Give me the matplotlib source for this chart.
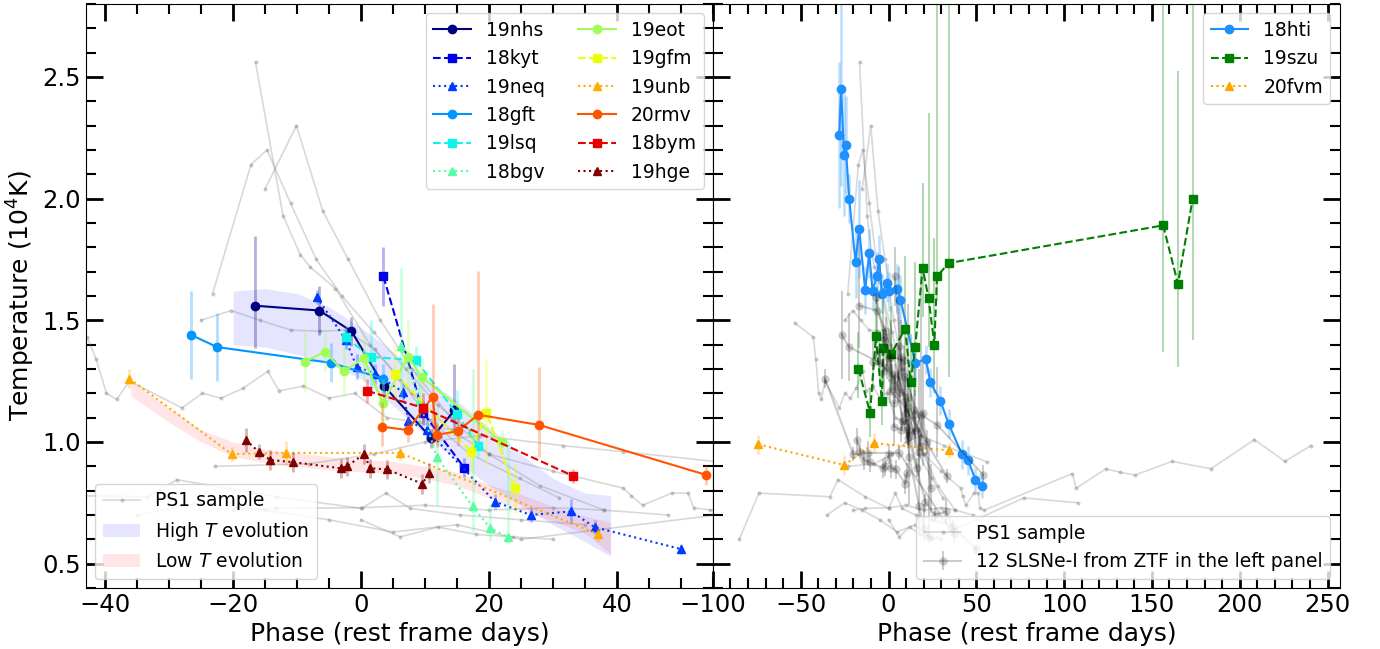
import numpy as np
import matplotlib.pyplot as plt
from matplotlib.patches import Patch
from matplotlib.lines import Line2D
from matplotlib.ticker import MultipleLocator

# ZTF SLSNe-I shown in the left panel: phase, temperature (1e4 K), error
names_left = ["19nhs", "18kyt", "19neq", "18gft", "19lsq", "18bgv",
              "19eot", "19gfm", "19unb", "20rmv", "18bym", "19hge"]

phase_19nhs = [-16.6, -6.5, -1.5, 3.6, 11.0, 14.6]
temp_19nhs = [1.56, 1.54, 1.455, 1.23, 1.015, 1.13]
err_19nhs = [[0.175, 0.1, 0.06, 0.05, 0.04, 0.1],
             [0.285, 0.1, 0.06, 0.05, 0.04, 0.19]]

phase_18kyt = [3.5, 9.7, 16.1]
temp_18kyt = [1.68, 1.12, 0.895]
err_18kyt = [0.12, 0.05, 0.04]

phase_19neq = [-6.9, -2.4, -0.7, 2.2, 6.6, 7.4, 10.3, 20.9, 26.5, 32.8, 36.5, 50.0]
temp_19neq = [1.595, 1.42, 1.31, 1.28, 1.205, 1.085, 1.05, 0.755, 0.70, 0.715, 0.65, 0.56]
err_19neq = [0.03, 0.04, 0.05, 0.04, 0.04, 0.04, 0.04, 0.03, 0.03, 0.05, 0.03, 0.02]

phase_18gft = [-26.6, -22.5, -4.7, 3.5]
temp_18gft = [1.44, 1.39, 1.325, 1.26]
err_18gft = [0.18, 0.14, 0.08, 0.06]

phase_19lsq = [-2.4, 1.5, 8.6, 15.0, 18.3]
temp_19lsq = [1.43, 1.35, 1.335, 1.115, 0.985]
err_19lsq = [0.05, 0.15, 0.06, 0.1, 0.05]

phase_18bgv = [6.25, 9.1, 11.8, 17.45, 20.2, 22.9]
temp_18bgv = [1.395, 1.17, 0.94, 0.735, 0.645, 0.61]
err_18bgv = [[0.215, 0.1, 0.2, 0.105, 0.05, 0.025],
             [0.325, 0.1, 0.2, 0.565, 0.1, 0.40]]

phase_19eot = [-8.75, -5.7, -2.65, 0.4, 3.4, 7.3, 9.6, 22.0]
temp_19eot = [1.33, 1.37, 1.29, 1.345, 1.16, 1.35, 1.265, 1.0]
err_19eot = [0.12, 0.08, 0.1, 0.1, 0.1, 0.15, 0.08, 0.05]

phase_19gfm = [5.3, 17.2, 19.6, 24.0]
temp_19gfm = [1.28, 0.96, 1.12, 0.81]
err_19gfm = [0.12, 0.1, 0.22, 0.1]

phase_19unb = [-36.2, -20.2, -11.8, 6.1, 37.1]
temp_19unb = [1.26, 0.95, 0.955, 0.955, 0.62]
err_19unb = [0.04, 0.03, 0.05, 0.03, 0.03]

phase_20rmv = [3.2, 7.3, 11.2, 11.8, 15.1, 18.3, 27.8, 53.9]
temp_20rmv = [1.063, 1.049, 1.186, 1.029, 1.044, 1.112, 1.07, 0.865]
err_20rmv = [[0.08, 0.05, 0.2, 0.05, 0.06, 0.11, 0.13, 0.04],
             [0.1, 0.05, 0.38, 0.05, 0.06, 0.59, 0.24, 0.04]]

phase_18bym = [1.0, 9.7, 33.2]
temp_18bym = [1.21, 1.14, 0.86]
err_18bym = [0.05, 0.06, 0.03]

phase_19hge = [-18.0, -16.0, -14.2, -10.6, -3.2, -2.2, 0.5, 1.4, 4.1, 9.6, 10.6]
temp_19hge = [1.008, 0.96, 0.926, 0.917, 0.892, 0.90, 0.951, 0.892, 0.887, 0.828, 0.872]
err_19hge = [0.05, 0.03, 0.04, 0.04, 0.04, 0.04, 0.04, 0.04, 0.04, 0.04, 0.04]

phases_left = [phase_19nhs, phase_18kyt, phase_19neq, phase_18gft, phase_19lsq, phase_18bgv,
               phase_19eot, phase_19gfm, phase_19unb, phase_20rmv, phase_18bym, phase_19hge]
temps_left = [temp_19nhs, temp_18kyt, temp_19neq, temp_18gft, temp_19lsq, temp_18bgv,
              temp_19eot, temp_19gfm, temp_19unb, temp_20rmv, temp_18bym, temp_19hge]
errs_left = [err_19nhs, err_18kyt, err_19neq, err_18gft, err_19lsq, err_18bgv,
             err_19eot, err_19gfm, err_19unb, err_20rmv, err_18bym, err_19hge]

# SLSNe-I in the right panel
phase_18hti = [-28.1, -27.0, -25.3, -24.4, -22.4, -18.8, -16.7, -13.3, -11.0, -9.1, -6.7, -5.3,
               -3.8, -0.6, 0.4, 5.1, 6.8, 15.2, 21.3, 23.8, 29.5, 34.2, 41.8, 45.3, 49.5, 53.3]
temp_18hti = [2.26, 2.45, 2.18, 2.22, 2.0, 1.74, 1.875, 1.625, 1.775, 1.62, 1.68, 1.75,
              1.61, 1.655, 1.62, 1.63, 1.585, 1.325, 1.34, 1.245, 1.17, 1.075, 0.95, 0.925, 0.845, 0.82]
err_18hti = [0.3, 0.4, 0.25, 0.2, 0.1, 0.15, 0.2, 0.1, 0.1, 0.08, 0.1, 0.1,
             0.08, 0.08, 0.08, 0.1, 0.1, 0.08, 0.06, 0.06, 0.06, 0.06, 0.06, 0.06, 0.05, 0.05]

phase_19szu = [-17.1, -10.5, -7.2, -3.8, -2.9, 1.3, 9.5, 12.6, 15.2, 19.4, 22.8, 26.1, 27.6, 34.2,
               156.4, 164.8, 173.2]
temp_19szu = [1.30, 1.12, 1.435, 1.17, 1.385, 1.36, 1.465, 1.245, 1.39, 1.715, 1.59, 1.40, 1.68, 1.735,
              1.89, 1.65, 2.0]
errlo_19szu = [0.12, 0.1, 0.12, 0.1, 0.15, 0.15, 0.15, 0.15, 0.2, 0.2, 0.2, 0.2, 0.1, 0.47,
               0.52, 0.34, 0.58]
errhi_19szu = [0.15, 0.1, 0.15, 0.12, 0.2, 0.2, 0.3, 0.2, 0.35, 0.35, 0.76, 0.44, 1.2, 1.2,
               1.0, 0.875, 1.0]

phase_20fvm = [-74.2, -25.1, -8.2, 34.6]
temp_20fvm = [0.99, 0.905, 0.995, 0.965]
err_20fvm = [0.04, 0.04, 0.04, 0.03]

# temperature evolution bands
band_phase_high = [-20, -15, -10, -5, 0, 5, 10, 15, 20, 25, 30, 35, 39]
band_high_upper = [1.62, 1.63, 1.61, 1.555, 1.47, 1.37, 1.26, 1.17, 1.06, 0.95, 0.85, 0.79, 0.78]
band_high_lower = [1.40, 1.39, 1.36, 1.32, 1.26, 1.15, 1.03, 0.92, 0.82, 0.74, 0.66, 0.59, 0.53]

band_phase_low = [-36, -30, -25, -20, -15, -10, -5, 0, 5, 10, 15, 20, 25, 30, 35, 39]
band_low_upper = [1.25, 1.14, 1.05, 1.0, 0.97, 0.955, 0.94, 0.93, 0.92, 0.9, 0.875, 0.825, 0.785, 0.735, 0.695, 0.67]
band_low_lower = [1.19, 1.08, 1.0, 0.94, 0.915, 0.9, 0.885, 0.878, 0.87, 0.85, 0.82, 0.77, 0.72, 0.675, 0.625, 0.54]

# PS1 comparison sample (rough light curves)
ps1_phases = [
    [-53.5, -42.8, -41.4, -39.8, -38.2, -36.2, -28.0, -24.8, -21.9, -18.5, -14.6, -12.8, -9, -5, -1, 4, 9, 14],
    [-16.5, -12.2, -9.5, -8.0, -4.0, 1.4, 6.0, 10.8, 17.0, 24.8, 31.0],
    [-15.0, -10.1, -6.0, -2.0, 3.0, 8.0, 14.0, 20.0, 28.0, 38.0, 48.0],
    [-23.2, -17.2, -14.7, -11.0, -7.0, -3.0, 2.0, 7.0, 12.0, 17.0],
    [-25.0, -20.3, -15.8, -11.0, -6.4, -2.5, 2.2, 8.0, 14.0, 20.0],
    [-85.0, -73.8, -33.4, -28.8, -13.3, 0.1, 3.9, 7.7, 15.4, 25.0, 35.0],
    [-22.8, -8.2, 2.0, 10.0, 18.6, 31.6, 41.0, 56.0],
    [20.0, 30.0, 41.0, 42.2, 44.0, 48.6, 51.1, 52.0, 54.6, 104.6, 106.9, 123.8, 131.6, 140.3,
     161.4, 183.7, 208.3, 225.7, 240.5],
    [-35.0, -25.0, -15.0, -5.0, 5.0, 15.0, 25.0, 77.0, 108.0],
    [-20.0, -13.3, 0.0, 10.0, 20.0, 30.0, 38.0],
    [0.0, 6.1, 12.0, 18.0, 23.8, 30.0],
]
ps1_temps = [
    [1.49, 1.43, 1.34, 1.20, 1.175, 1.25, 1.14, 1.20, 1.18, 1.22, 1.29, 1.21, 1.23, 1.18, 1.20, 1.10, 1.08, 1.05],
    [2.56, 1.93, 1.77, 1.72, 1.63, 1.40, 1.26, 1.09, 0.95, 0.85, 0.77],
    [2.04, 2.30, 1.95, 1.75, 1.50, 1.30, 1.10, 0.95, 0.82, 0.72, 0.70],
    [1.61, 2.14, 2.20, 1.98, 1.75, 1.60, 1.45, 1.30, 1.15, 1.05],
    [1.50, 1.54, 1.50, 1.46, 1.455, 1.46, 1.38, 1.20, 1.05, 0.95],
    [0.60, 0.79, 0.775, 0.845, 0.775, 0.727, 0.79, 0.727, 0.70, 0.68, 0.66],
    [0.90, 0.91, 0.95, 1.00, 1.026, 0.985, 0.96, 0.918],
    [0.95, 0.88, 0.81, 0.78, 0.74, 0.79, 0.79, 0.73, 0.72, 0.87, 0.81, 0.89, 0.876, 0.864,
     0.92, 0.89, 1.01, 0.92, 0.985],
    [0.70, 0.75, 0.72, 0.68, 0.63, 0.66, 0.60, 0.77, 0.75],
    [0.72, 0.727, 0.73, 0.74, 0.72, 0.73, 0.72],
    [0.68, 0.61, 0.65, 0.62, 0.61, 0.60],
]

colors_left = plt.cm.jet(np.linspace(0, 1, 12))
markers = ["o", "s", "^"]
styles = ["-", "--", ":"]

fig = plt.figure(figsize=(13.8, 6.49), dpi=100)
ax1 = fig.add_axes([0.0623, 0.094, 0.4543, 0.9])
ax2 = fig.add_axes([0.5166, 0.094, 0.4543, 0.9], sharey=ax1)

ps1_kw = dict(color="gray", alpha=0.3, lw=1.2, marker=".", ms=4)

# ---- left panel ----
for px, py in zip(ps1_phases, ps1_temps):
    ax1.plot(px, py, **ps1_kw)

ax1.fill_between(band_phase_high, band_high_lower, band_high_upper, color="blue", alpha=0.1, lw=0)
ax1.fill_between(band_phase_low, band_low_lower, band_low_upper, color="red", alpha=0.1, lw=0)

handles_left = []
for i, name in enumerate(names_left):
    c = colors_left[i]
    ax1.errorbar(phases_left[i], temps_left[i], yerr=errs_left[i], fmt="none",
                 ecolor=c, alpha=0.3, elinewidth=2)
    h, = ax1.plot(phases_left[i], temps_left[i], color=c, marker=markers[i % 3],
                  ls=styles[i % 3], lw=1.5, ms=6, label=name)
    handles_left.append(h)

leg1 = ax1.legend(handles=handles_left, loc="upper right", ncol=2, fontsize=13.5,
                  columnspacing=1.8)
ax1.add_artist(leg1)
extra = [Line2D([], [], **ps1_kw),
         Patch(facecolor="blue", alpha=0.1),
         Patch(facecolor="red", alpha=0.1)]
ax1.legend(extra, ["PS1 sample", "High $T$ evolution", "Low $T$ evolution"],
           loc="lower left", fontsize=13.5)

ax1.set_xlim(-43, 55)
ax1.set_ylim(0.4, 2.8)
ax1.xaxis.set_major_locator(MultipleLocator(20))
ax1.xaxis.set_minor_locator(MultipleLocator(5))

# ---- right panel ----
for px, py in zip(ps1_phases, ps1_temps):
    ax2.plot(px, py, **ps1_kw)

ztf = None
for i in range(12):
    ztf = ax2.errorbar(phases_left[i], temps_left[i], yerr=errs_left[i], color="k",
                       alpha=0.2, marker="o", ms=6, mew=0, lw=1.5)

ax2.errorbar(phase_18hti, temp_18hti, yerr=err_18hti, fmt="none", ecolor="dodgerblue",
             alpha=0.3, elinewidth=1.8)
ax2.errorbar(phase_19szu, temp_19szu, yerr=[errlo_19szu, errhi_19szu], fmt="none",
             ecolor="green", alpha=0.3, elinewidth=1.5)
ax2.errorbar(phase_20fvm, temp_20fvm, yerr=err_20fvm, fmt="none", ecolor="orange",
             alpha=0.3, elinewidth=1.8)
h1, = ax2.plot(phase_18hti, temp_18hti, color="dodgerblue", marker="o", ls="-", lw=1.5, ms=6, label="18hti")
h2, = ax2.plot(phase_19szu, temp_19szu, color="green", marker="s", ls="--", lw=1.5, ms=6, label="19szu")
h3, = ax2.plot(phase_20fvm, temp_20fvm, color="orange", marker="^", ls=":", lw=1.5, ms=6, label="20fvm")

leg2 = ax2.legend(handles=[h1, h2, h3], loc="upper right", fontsize=13.5)
ax2.add_artist(leg2)
ax2.legend([Line2D([], [], **ps1_kw), ztf], ["PS1 sample", "12 SLSNe-I from ZTF in the left panel"],
           loc="lower right", fontsize=13.5)

ax2.set_xlim(-100, 257)
ax2.xaxis.set_major_locator(MultipleLocator(50))
ax2.xaxis.set_minor_locator(MultipleLocator(10))

ax1.yaxis.set_major_locator(MultipleLocator(0.5))
ax1.yaxis.set_minor_locator(MultipleLocator(0.1))
ax1.set_ylabel("Temperature ($10^4$K)", fontsize=18)
for ax in (ax1, ax2):
    ax.set_xlabel("Phase (rest frame days)", fontsize=18)
    ax.tick_params(which="both", direction="in", top=True, right=True, labelsize=17.5)
    ax.tick_params(which="major", length=12, width=2)
    ax.tick_params(which="minor", length=7, width=1.5)
ax2.tick_params(labelleft=False)

fig.savefig("out.png", dpi=100)
